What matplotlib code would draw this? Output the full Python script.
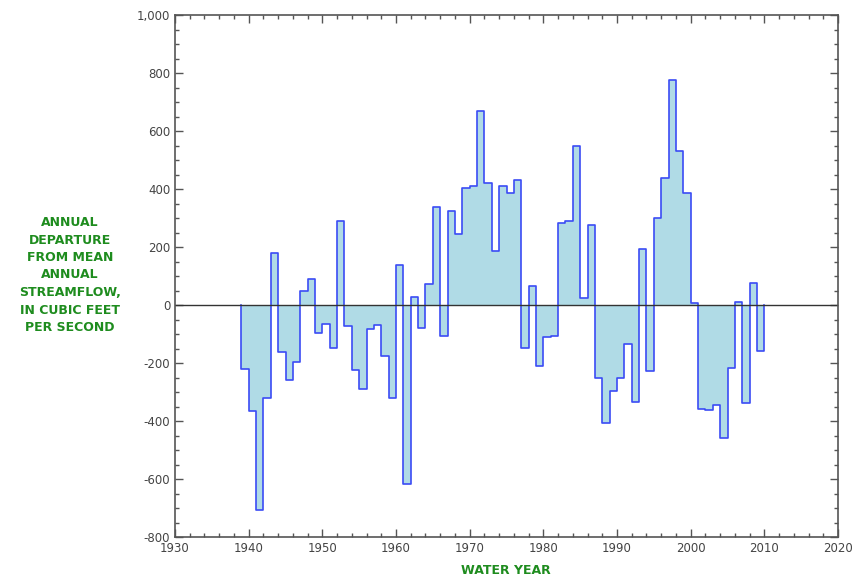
import numpy as np
import matplotlib.pyplot as plt
from matplotlib.ticker import MultipleLocator, FuncFormatter

# Water years 1939-2009, departure from mean annual streamflow (cfs)
years = np.arange(1939, 2010)
departure = [
    -222, -365, -706, -322, 178, -163, -260, -198, 48, 88,      # 1939-1948
    -95, -65, -148, 289, -71, -225, -290, -83, -68, -177,       # 1949-1958
    -321, 139, -617, 28, -81, 71, 337, -108, 323, 244,          # 1959-1968
    402, 409, 668, 422, 186, 409, 387, 432, -147, 67,           # 1969-1978
    -210, -110, -108, 284, 291, 548, 25, 275, -250, -406,       # 1979-1988
    -295, -250, -134, -333, 192, -229, 301, 438, 777, 531,      # 1989-1998
    387, 8, -357, -363, -346, -459, -216, 9, -338, 76,          # 1999-2008
    -160,                                                       # 2009
]

green = '#1e8c1e'
gray = '#555555'

fig = plt.figure(figsize=(8.52, 5.77), dpi=100)
ax = fig.add_axes([0.2054, 0.0693, 0.7782, 0.9047])

# step outline: each year spans [year, year+1]
x_edges = np.append(years, years[-1] + 1)
y_vals = np.append(departure, departure[-1])
ax.fill_between(x_edges, y_vals, 0, step='post', color='#b0dbe6', linewidth=0)
x_line = np.concatenate([[years[0]], x_edges, [x_edges[-1]]])
y_line = np.concatenate([[0], y_vals, [0]])
ax.step(x_line, y_line, where='post', color='#3b4cf5', linewidth=1.2)

ax.axhline(0, color='#333333', linewidth=1)

ax.set_xlim(1930, 2020)
ax.set_ylim(-800, 1000)
ax.xaxis.set_major_locator(MultipleLocator(10))
ax.xaxis.set_minor_locator(MultipleLocator(2))
ax.yaxis.set_major_locator(MultipleLocator(200))
ax.yaxis.set_minor_locator(MultipleLocator(50))
ax.yaxis.set_major_formatter(FuncFormatter(lambda v, p: f'{int(v):,}'))

ax.tick_params(which='both', direction='in', top=True, right=True,
               color=gray, labelcolor='#444444', labelsize=8.5)
ax.tick_params(which='major', length=6, width=1)
ax.tick_params(which='minor', length=3, width=1)
for s in ax.spines.values():
    s.set_color(gray)
    s.set_linewidth(1.2)

fig.text(506 / 852, 1 - 571 / 577, 'WATER YEAR', color=green, fontweight='bold',
         fontsize=9, ha='center', va='center')
fig.text(70 / 852, 1 - 275 / 577,
         'ANNUAL\nDEPARTURE\nFROM MEAN\nANNUAL\nSTREAMFLOW,\nIN CUBIC FEET\nPER SECOND',
         color=green, fontweight='bold', fontsize=9, ha='center', va='center',
         linespacing=1.45)

fig.savefig('out.png', dpi=100)
